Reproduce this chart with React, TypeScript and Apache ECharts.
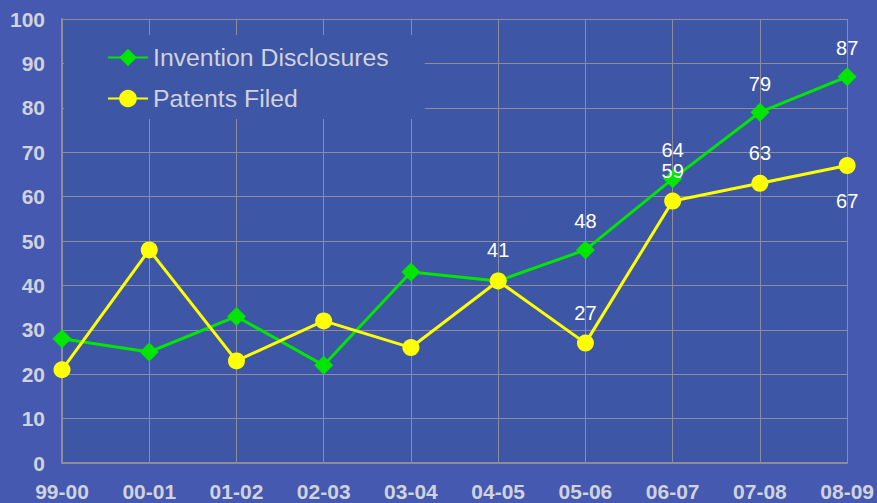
import React, { useEffect, useRef } from "react";
import * as echarts from "echarts";

const categories = ["99-00", "00-01", "01-02", "02-03", "03-04", "04-05", "05-06", "06-07", "07-08", "08-09"];
const disclosures = [28, 25, 33, 22, 43, 41, 48, 64, 79, 87];
const patents = [21, 48, 23, 32, 26, 41, 27, 59, 63, 67];
const yTicks = { min: 0, max: 100, interval: 10 };
const greenLabelFrom = 6;
const yellowLabelFrom = 5;

export default function App() {
  const ref = useRef<HTMLDivElement>(null);
  useEffect(() => {
    const chart = echarts.init(ref.current!, null, { renderer: "svg" });
    const font = "Liberation Sans, Arial, sans-serif";
    const labelStyle = { color: "#ffffff", fontSize: 20, fontFamily: font };
    const mk = (vals: number[], from: number, pos: (i: number) => string, dist: (i: number) => number) =>
      vals.map((v, i) => ({
        value: v,
        label: { show: i >= from, position: pos(i), distance: dist(i), ...labelStyle },
      }));
    chart.setOption({
      animation: false,
      backgroundColor: "#4659B0",
      grid: {
        left: 62,
        right: 28,
        top: 19,
        bottom: 40,
        show: true,
        backgroundColor: "#3D56A5",
        borderWidth: 0,
      },
      legend: {
        orient: "vertical",
        left: 64,
        top: 35,
        backgroundColor: "#3D56A5",
        padding: [10, 36, 8, 43],
        itemGap: 16,
        itemWidth: 40,
        itemHeight: 22,
        textStyle: { color: "#D0D2DC", fontSize: 24.8, lineHeight: 24, fontFamily: font },
        data: ["Invention Disclosures", "Patents Filed"],
      },
      xAxis: {
        type: "category",
        data: categories,
        boundaryGap: false,
        axisLine: { show: true, lineStyle: { color: "#8C8C9C", width: 2 } },
        axisTick: { show: false },
        axisLabel: {
          color: "#D0D2DC",
          fontSize: 21,
          fontWeight: "bold",
          fontFamily: font,
          margin: 18,
          interval: 0,
        },
        splitLine: { show: true, lineStyle: { color: "#8C8C9C", width: 1 } },
      },
      yAxis: {
        type: "value",
        min: yTicks.min,
        max: yTicks.max,
        interval: yTicks.interval,
        axisLine: { show: true, lineStyle: { color: "#8C8C9C", width: 2 } },
        axisTick: { show: true, inside: true, length: 5, lineStyle: { color: "#8C8C9C" } },
        axisLabel: {
          color: "#D0D2DC",
          fontSize: 21,
          fontWeight: "bold",
          fontFamily: font,
          margin: 17,
        },
        splitLine: { show: true, lineStyle: { color: "#8C8C9C", width: 1 } },
      },
      series: [
        {
          name: "Invention Disclosures",
          type: "line",
          data: mk(disclosures, greenLabelFrom, () => "top", () => 9),
          symbol: "diamond",
          symbolSize: 19,
          lineStyle: { color: "#00E600", width: 3 },
          itemStyle: { color: "#00E600" },
          z: 2,
        },
        {
          name: "Patents Filed",
          type: "line",
          data: mk(patents, yellowLabelFrom, (i) => (i === 9 ? "bottom" : "top"), (i) => (i === 9 ? 17 : 12)),
          symbol: "circle",
          symbolSize: 17,
          lineStyle: { color: "#FFFF00", width: 3 },
          itemStyle: { color: "#FFFF00" },
          z: 3,
        },
      ],
    });
    return () => chart.dispose();
  }, []);
  return <div ref={ref} style={{ width: 877, height: 503, position: "absolute", left: 0, top: 0 }} />;
}
